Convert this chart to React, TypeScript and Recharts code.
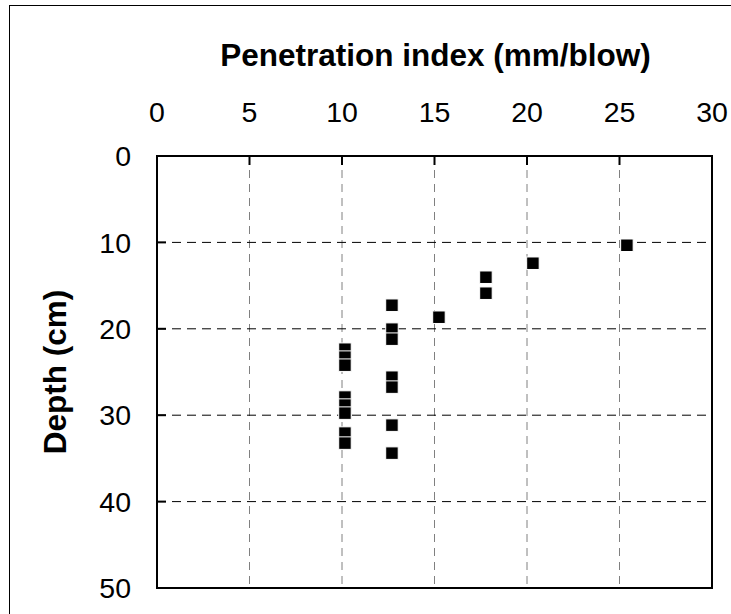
import React from 'react';
import {
    ScatterChart,
    Scatter,
    XAxis,
    YAxis,
    CartesianGrid,
    ReferenceArea
} from 'recharts';

// penetration index (mm/blow) and depth (cm) of each reading
const penetrationIndex = [
    25.4, 20.32, 17.78, 17.78, 15.24,
    12.7, 12.7, 12.7, 12.7, 12.7, 12.7, 12.7,
    10.16, 10.16, 10.16, 10.16, 10.16, 10.16, 10.16, 10.16
];
const depthCm = [
    10.33, 12.41, 14.03, 15.88, 18.66,
    17.27, 20.04, 21.2, 25.6, 26.75, 31.15, 34.39,
    22.36, 23.28, 24.21, 27.9, 28.83, 29.76, 32.07, 33.23
];

const xTicks = [0, 5, 10, 15, 20, 25, 30];
const yTicks = [0, 10, 20, 30, 40, 50];

const FONT = '"Liberation Sans", Arial, sans-serif';
const TICK_LEN = 9;
const MARKER = 12.5;

const data = penetrationIndex.map((pi, i) => ({ pi, depth: depthCm[i] }));

// labels sit outside the plot while the tick marks point inwards (mirror)
const TopTick = (props: any) => (
    <text x={props.x} y={props.y - TICK_LEN - 34.3} textAnchor="middle" fontSize={28.5} fontFamily={FONT} fill="#000">
        {props.payload.value}
    </text>
);

const LeftTick = (props: any) => (
    <text x={props.x - TICK_LEN - 26} y={props.y} dy="0.36em" textAnchor="end" fontSize={28.5} fontFamily={FONT} fill="#000">
        {props.payload.value}
    </text>
);

// filled square with a thin white edge, centred on the point
const SquareMarker = (props: any) => (
    <rect
        x={props.cx - MARKER / 2}
        y={props.cy - MARKER / 2}
        width={MARKER}
        height={MARKER}
        fill="#000"
        stroke="#fff"
        strokeWidth={1}
    />
);

export default function App() {
    return (
        <div style={{ position: 'absolute', left: 0, top: 0, width: 731, height: 614, background: '#fff' }}>
            <ScatterChart width={731} height={614} margin={{ top: 156, right: 19, bottom: 26, left: 157 }}>
                <CartesianGrid horizontal={false} stroke="#808080" strokeDasharray="8 6" />
                <CartesianGrid vertical={false} stroke="#000" strokeDasharray="9 6" />
                <XAxis
                    type="number"
                    dataKey="pi"
                    orientation="top"
                    mirror
                    domain={[0, 30]}
                    ticks={xTicks}
                    axisLine={false}
                    tickSize={TICK_LEN}
                    tickMargin={0}
                    tickLine={{ stroke: '#000', strokeWidth: 2 }}
                    tick={<TopTick />}
                    interval={0}
                />
                <YAxis
                    type="number"
                    dataKey="depth"
                    reversed
                    mirror
                    domain={[0, 50]}
                    ticks={yTicks}
                    axisLine={false}
                    tickSize={TICK_LEN}
                    tickMargin={0}
                    tickLine={{ stroke: '#000', strokeWidth: 2 }}
                    tick={<LeftTick />}
                    interval={0}
                />
                <ReferenceArea x1={0} x2={30} y1={0} y2={50} fill="none" fillOpacity={0} stroke="#000" strokeWidth={2} />
                <Scatter data={data} shape={<SquareMarker />} isAnimationActive={false} />
            </ScatterChart>
            <svg width={731} height={614} style={{ position: 'absolute', left: 0, top: 0, pointerEvents: 'none' }}>
                <line x1={9} y1={5.5} x2={731} y2={5.5} stroke="#000" strokeWidth={1} />
                <line x1={9.5} y1={5} x2={9.5} y2={614} stroke="#000" strokeWidth={1} />
                <text x={435.5} y={66} textAnchor="middle" fontSize={31.5} fontWeight="bold" fontFamily={FONT} fill="#000">
                    Penetration index (mm/blow)
                </text>
                <text transform="translate(66, 372) rotate(-90)" textAnchor="middle" fontSize={31.5} fontWeight="bold" fontFamily={FONT} fill="#000">
                    Depth (cm)
                </text>
            </svg>
        </div>
    );
}
